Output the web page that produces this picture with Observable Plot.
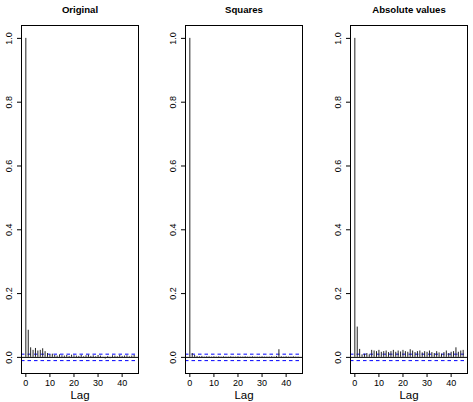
<!DOCTYPE html>
<html>
<head>
<meta charset="utf-8">
<script src="https://cdn.jsdelivr.net/npm/d3@7"></script>
<script src="https://cdn.jsdelivr.net/npm/@observablehq/plot@0.6"></script>
<style>
  html, body { margin: 0; padding: 0; background: #fff; }
  #wrap { position: relative; width: 473px; height: 402px; overflow: hidden; background: #fff; }
  #wrap > div, #wrap > svg { position: absolute; top: 0; }
</style>
</head>
<body>
<div id="wrap"></div>
<script>
const titles = ["Original", "Squares", "Absolute values"];
const lags = d3.range(0, 46);
const original = [1, 0.085, 0.03, 0.022, 0.028, 0.02, 0.022, 0.027, 0.018, 0.012,
  0.008, 0.01, 0.006, 0.004, 0.008, 0.005, 0.004, 0.006, 0.003, 0.007,
  0.005, 0.004, 0.003, 0.006, 0.002, 0.005, 0.007, 0.003, 0.005, 0.002,
  0.006, 0.004, -0.003, -0.005, 0.003, -0.004, 0.005, 0.004, 0.002, 0.006,
  0.003, 0.004, 0.005, 0.002, 0.004, 0.006];
const squares = [1, 0.012, 0.006, 0.003, 0.002, 0.003, 0.001, 0.002, 0.002, 0.001,
  0.002, 0.001, 0.002, 0.001, 0.002, 0.001, 0.001, 0.002, 0.001, 0.001,
  0.002, 0.001, 0.001, 0.002, 0.001, 0.001, 0.002, 0.001, 0.001, 0.001,
  0.002, 0.001, 0.001, 0.001, 0.002, 0.001, 0.003, 0.024, 0.002, 0.001,
  0.002, 0.001, 0.001, 0.002, 0.001, 0.001];
const absValues = [1, 0.095, 0.025, 0.008, 0.01, 0.012, 0.008, 0.022, 0.02, 0.018,
  0.022, 0.016, 0.018, 0.02, 0.015, 0.018, 0.022, 0.016, 0.02, 0.017,
  0.022, 0.018, 0.016, 0.024, 0.02, 0.015, 0.018, 0.02, 0.014, 0.018,
  0.016, 0.02, 0.015, 0.012, 0.018, 0.014, 0.01, 0.015, 0.02, 0.012,
  0.016, 0.018, 0.03, 0.016, 0.02, 0.022];
const ci = 0.0101;
const xTicks = [0, 10, 20, 30, 40];
const yTicks = [0, 0.2, 0.4, 0.6, 0.8, 1.0];

const series = [original, squares, absValues];
const lefts = [0, 164, 329];
const widths = [158, 158, 144];
const rights = [20, 20, 6];
const font = "'Liberation Sans', Arial, Helvetica, sans-serif";

const wrap = document.getElementById("wrap");
series.forEach((vals, i) => {
  const data = lags.map((lag, k) => ({lag, acf: vals[k]}));
  const chart = Plot.plot({
    width: widths[i],
    height: 402,
    marginTop: 25,
    marginBottom: 29,
    marginLeft: 21,
    marginRight: rights[i],
    style: {fontFamily: font, background: "white", color: "black", overflow: "visible"},
    x: {domain: [-1.8, 46.8]},
    y: {domain: [-0.0505, 1.0404]},
    marks: [
      Plot.ruleY([ci, -ci], {stroke: "blue", strokeDasharray: "3.5,3", strokeWidth: 1}),
      Plot.ruleY([0], {stroke: "black", strokeWidth: 1}),
      Plot.ruleX(data, {x: "lag", y1: 0, y2: "acf", stroke: "#222", strokeWidth: 1}),
      Plot.frame({stroke: "black", strokeWidth: 1}),
      Plot.axisX({ticks: xTicks, tickSize: 4, tickPadding: 2, fontSize: 9, label: null, stroke: "black"}),
      Plot.axisY({ticks: yTicks, tickSize: 4, tickFormat: () => "", label: null, stroke: "black"}),
      Plot.text(yTicks, {y: d => d, text: d => d3.format(".1f")(d), frameAnchor: "left", dx: -12.5,
        rotate: -90, textAnchor: "middle", lineAnchor: "middle", fontSize: 9, fill: "black"}),
      Plot.text(["Lag"], {frameAnchor: "bottom", dy: 22, fontSize: 11.5, fill: "black", lineAnchor: "middle"}),
      Plot.text([titles[i]], {frameAnchor: "top", dy: -16, fontSize: 9.6, fontWeight: "bold", fill: "black", lineAnchor: "middle"})
    ]
  });
  chart.style.left = lefts[i] + "px";
  chart.style.position = "absolute";
  chart.style.top = "0px";
  wrap.appendChild(chart);
});
</script>
</body>
</html>
